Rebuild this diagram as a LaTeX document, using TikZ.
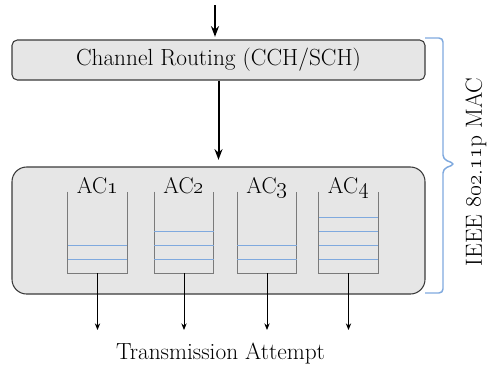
\documentclass[tikz,border=0pt]{standalone}
\usepackage{tikz}
\usetikzlibrary{arrows.meta}

\definecolor{boxgray}{HTML}{E6E6E6}
\definecolor{edgegray}{HTML}{3A3A3A}
\definecolor{wallgray}{HTML}{7A7A7A}
\definecolor{slotblue}{HTML}{7FA9DE}

\begin{document}
\begin{tikzpicture}[x=0.75pt,y=-0.75pt,
  block/.style={draw=edgegray, fill=boxgray, line width=0.8pt, inner sep=0pt,
    font=\fontsize{17.5}{20}\selectfont},
  lbl/.style={inner sep=0pt, font=\fontsize{17.5}{20}\selectfont},
  aclbl/.style={inner sep=0pt, font=\fontsize{17}{20}\selectfont},
  queue/.style={minimum width=44.25pt, minimum height=60.75pt, inner sep=0pt},
  wall/.style={draw=wallgray, line width=0.9pt},
  slot/.style={draw=slotblue, line width=0.8pt},
  bigarrow/.style={line width=1.5pt, -{Stealth[length=8pt,width=6pt]}},
  outarrow/.style={line width=0.7pt, -{Stealth[length=5pt,width=4pt]}},
  bracket/.style={draw=slotblue, line width=1.1pt, rounded corners=3pt}]
\useasboundingbox (0,0) rectangle (489,369);

% channel routing and the queue block
\node[block, rounded corners=4pt, minimum width=309.75pt, minimum height=30pt]
  (route) at (218.5,60) {Channel Routing (CCH/SCH)};
\node[block, rounded corners=11pt, minimum width=309.75pt, minimum height=95.25pt]
  (mac) at (218.5,230.5) {};

\coordinate (in) at (215,5);
\draw[bigarrow] (in) -- ([yshift=2pt]in |- route.north);
\draw[bigarrow, shorten >=5pt] (route.south) -- (mac.north);

% one queue per access category
\foreach \i/\cx/\n in {1/97.5/2, 2/184/3, 3/267/2, 4/348.5/4} {
  \node[queue] (q\i) at (\cx,232.5) {};
  \draw[wall] (q\i.north west) -- (q\i.south west) -- (q\i.south east) -- (q\i.north east);
  \foreach \k in {1,...,\n}
    \draw[slot] ([yshift=10.5pt*\k]q\i.south west) -- ([yshift=10.5pt*\k]q\i.south east);
  \node[aclbl, anchor=base] (ac\i) at ([yshift=-1pt]q\i.north) {AC\oldstylenums{\i}};
  \coordinate (t\i) at (\cx,330);
  \draw[outarrow] (q\i.south) -- (t\i);
}

\node[lbl, anchor=base] (tx) at (220.5,359) {Transmission Attempt};

% bracket for the MAC layer
\draw[bracket] (425,38) -- (443,38) -- (443,159) -- (455,164) -- (443,169) -- (443,293) -- (425,293);
\node[lbl, rotate=90] (maclbl) at (476,172) {IEEE \oldstylenums{802}.\oldstylenums{11}p MAC};
\end{tikzpicture}
\end{document}
